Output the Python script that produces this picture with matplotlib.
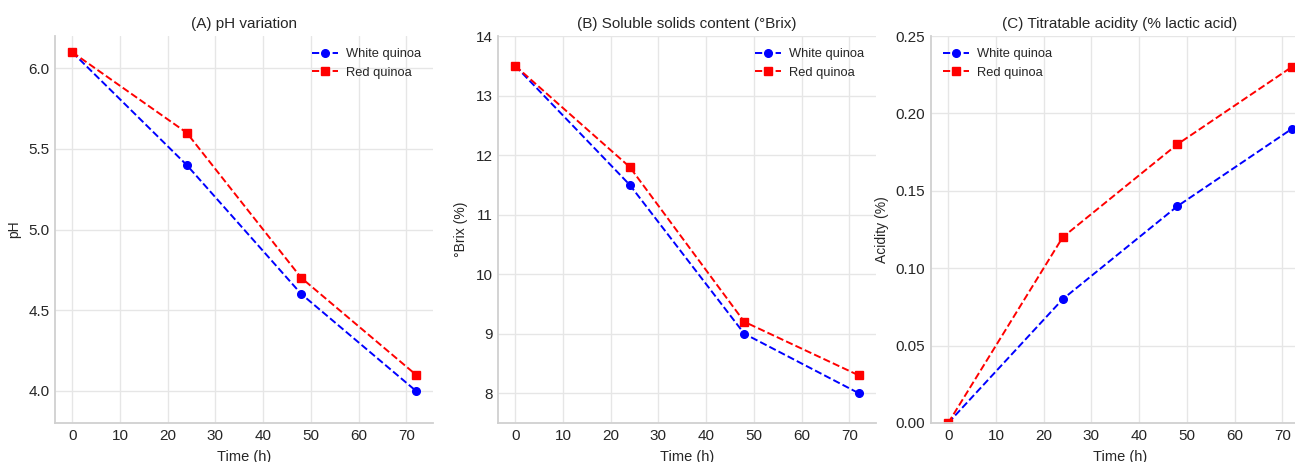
import matplotlib
matplotlib.use("Agg")
import matplotlib.pyplot as plt

# fermentation time points (h)
time_h = [0, 24, 48, 72]

# (A) pH
ph_white = [6.1, 5.4, 4.6, 4.0]
ph_red = [6.1, 5.6, 4.7, 4.1]

# (B) soluble solids (°Brix)
brix_white = [13.5, 11.5, 9.0, 8.0]
brix_red = [13.5, 11.8, 9.2, 8.3]

# (C) titratable acidity (% lactic acid)
acid_white = [0.0, 0.08, 0.14, 0.19]
acid_red = [0.0, 0.12, 0.18, 0.23]

plt.style.use("seaborn-v0_8-whitegrid")
plt.rcParams["font.family"] = ["Liberation Sans", "DejaVu Sans"]
plt.rcParams["text.color"] = "#262626"
plt.rcParams["axes.labelcolor"] = "#262626"
plt.rcParams["xtick.color"] = "#262626"
plt.rcParams["ytick.color"] = "#262626"

fig = plt.figure(figsize=(12.95, 4.62), dpi=100)

panels = [
    dict(left=55, white=ph_white, red=ph_red, title="(A) pH variation",
         ylabel="pH", ylim=(3.8, 6.2), loc="upper right"),
    dict(left=498, white=brix_white, red=brix_red,
         title="(B) Soluble solids content (°Brix)",
         ylabel="°Brix (%)", ylim=(7.5, 14), loc="upper right"),
    dict(left=931, white=acid_white, red=acid_red,
         title="(C) Titratable acidity (% lactic acid)",
         ylabel="Acidity (%)", ylim=(0, 0.25), loc="upper left"),
]

W, H = 1295, 462
for p in panels:
    ax = fig.add_axes([p["left"] / W, (H - 423) / H, 378 / W, 387 / H])
    ax.plot(time_h, p["white"], "o--", color="blue", lw=1.4, ms=5.5,
            label="White quinoa")
    ax.plot(time_h, p["red"], "s--", color="red", lw=1.4, ms=5.5,
            label="Red quinoa")
    ax.set_title(p["title"], fontsize=11, pad=6)
    ax.set_xlabel("Time (h)", fontsize=10.5, labelpad=5)
    ax.set_ylabel(p["ylabel"], fontsize=10, labelpad=5)
    ax.set_ylim(*p["ylim"])
    ax.set_xticks(range(0, 80, 10))
    ax.tick_params(labelsize=11, pad=4)
    ax.grid(True, color="#e6e6e6", linewidth=1)
    for s in ["top", "right"]:
        ax.spines[s].set_visible(False)
    for s in ["left", "bottom"]:
        ax.spines[s].set_color("#d0d0d0")
        ax.spines[s].set_linewidth(1.3)
    ax.legend(loc=p["loc"], fontsize=9.3, frameon=False, handletextpad=0.6,
              borderaxespad=0.55, labelspacing=0.5)

fig.savefig("out.png", dpi=100)
